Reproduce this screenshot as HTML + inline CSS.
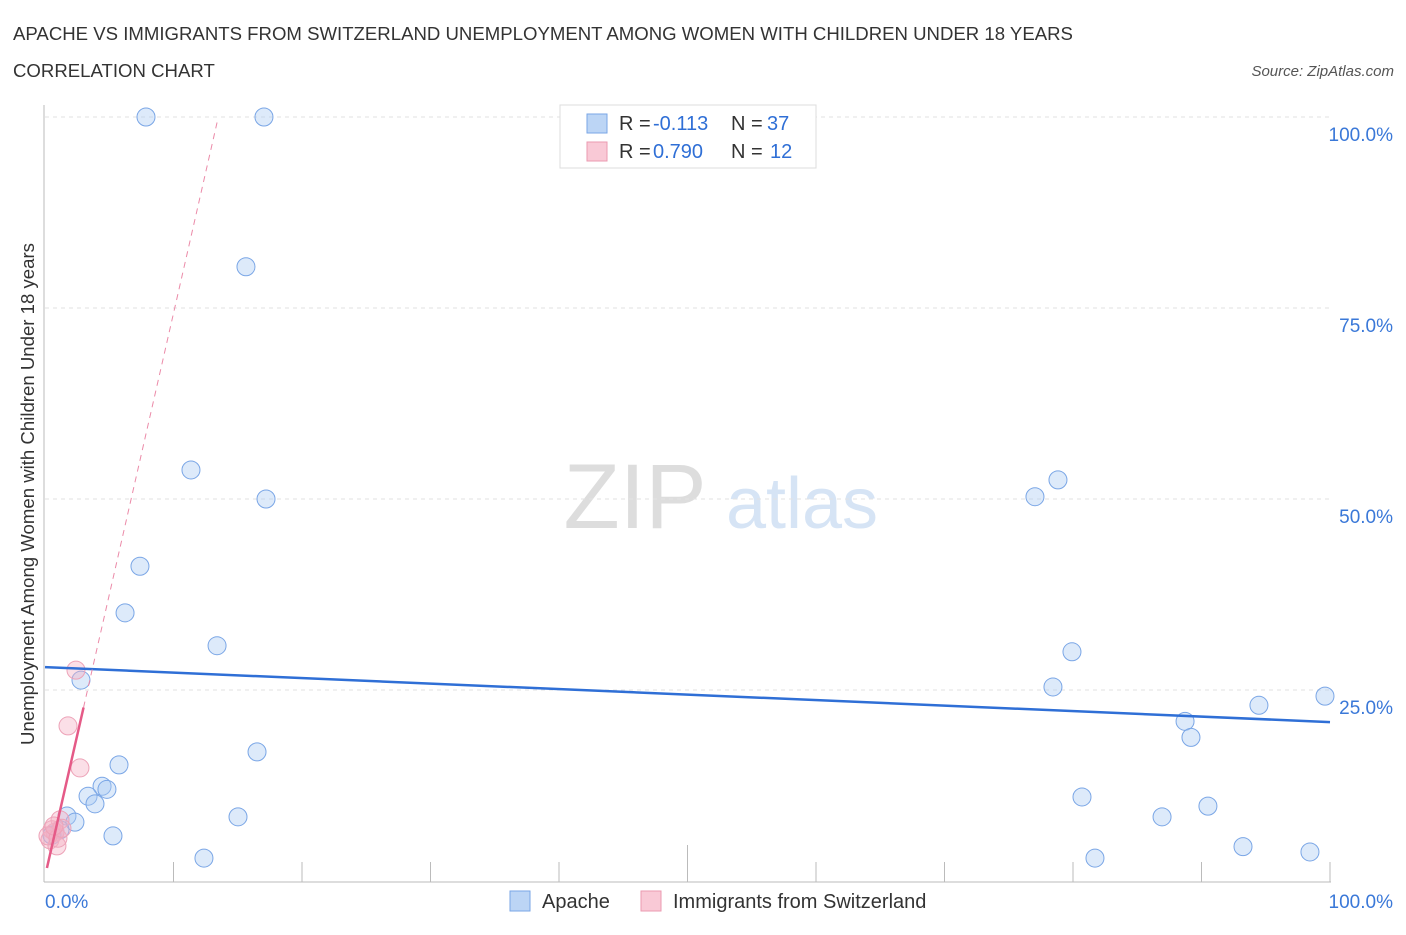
<!DOCTYPE html>
<html><head><meta charset="utf-8"><style>
body{margin:0;background:#fff;font-family:"Liberation Sans",sans-serif;}
svg text{font-family:"Liberation Sans",sans-serif;}
</style></head><body>
<svg id="c" width="1406" height="930">
<text x="13" y="40" font-size="18.6" fill="#333">APACHE VS IMMIGRANTS FROM SWITZERLAND UNEMPLOYMENT AMONG WOMEN WITH CHILDREN UNDER 18 YEARS</text>
<text x="13" y="77" font-size="18.6" fill="#333">CORRELATION CHART</text>
<text x="1394" y="76" font-size="15" fill="#555" font-style="italic" text-anchor="end">Source: ZipAtlas.com</text>
<text x="635" y="528" font-size="92" fill="#ddd" text-anchor="middle" font-family="Liberation Serif">ZIP</text>
<text x="802" y="528" font-size="72" fill="#d6e4f5" text-anchor="middle">atlas</text>
<text transform="translate(34,494) rotate(-90)" font-size="18.6" fill="#333" text-anchor="middle">Unemployment Among Women with Children Under 18 years</text>
<g id="grid"></g><g id="marks"></g>
<g>
<rect x="560" y="105" width="256" height="63" fill="#fff" stroke="#ddd"/>
<rect x="587" y="114" width="20" height="19" fill="#bcd5f5" stroke="#7aa6e6"/>
<rect x="587" y="142" width="20" height="19" fill="#f9c9d6" stroke="#eb9ab0"/>
<text x="619" y="130" font-size="20" fill="#333">R =</text>
<text x="653" y="130" font-size="20" fill="#2f6fd6">-0.113</text>
<text x="731" y="130" font-size="20" fill="#333">N =</text>
<text x="767" y="130" font-size="20" fill="#2f6fd6">37</text>
<text x="619" y="158" font-size="20" fill="#333">R =</text>
<text x="653" y="158" font-size="20" fill="#2f6fd6">0.790</text>
<text x="731" y="158" font-size="20" fill="#333">N =</text>
<text x="770" y="158" font-size="20" fill="#2f6fd6">12</text>
</g>
<g>
<rect x="510" y="891" width="20" height="20" fill="#bcd5f5" stroke="#7aa6e6"/>
<text x="542" y="908" font-size="20" fill="#333">Apache</text>
<rect x="641" y="891" width="20" height="20" fill="#f9c9d6" stroke="#eb9ab0"/>
<text x="673" y="908" font-size="20" fill="#333">Immigrants from Switzerland</text>
</g>
</svg>
<script>
const yTicks=[25,50,75,100];
const yTickLabels=["25.0%","50.0%","75.0%","100.0%"];
const apacheX=[7.86,17.04,15.64,11.36,17.2,7.39,6.23,13.39,2.8,16.5,5.76,4.44,4.82,3.35,3.89,1.71,2.33,5.29,15.02,12.37,1.17,0.78,0.54,77.04,78.83,79.92,78.44,94.47,99.61,88.72,89.18,80.7,86.93,90.5,81.71,93.23,98.44];
const apacheY=[100,100,80.4,53.8,50.0,41.2,35.1,30.8,26.3,16.9,15.2,12.4,12.0,11.1,10.1,8.5,7.7,5.9,8.4,3.0,6.7,6.4,6.0,50.3,52.5,30.0,25.4,23.0,24.2,20.9,18.8,11.0,8.4,9.8,3.0,4.5,3.8];
const swissX=[2.41,1.79,2.72,1.17,0.78,0.39,0.93,0.54,0.23,1.01,1.32,0.7];
const swissY=[27.6,20.3,14.8,8.0,6.4,5.4,4.6,6.7,5.9,5.6,6.9,7.2];
const apacheTrend=[28.0,20.8];
const swissTrend=[0.6,7.37];
const NS='http://www.w3.org/2000/svg';
const X=v=>45+v*12.85, Y=v=>881-v*7.64;
function mk(p,t,a){const e=document.createElementNS(NS,t);for(const k in a)e.setAttribute(k,a[k]);p.appendChild(e);return e;}
const g=document.getElementById('grid'), m=document.getElementById('marks');
yTicks.forEach((t,i)=>{
 const l=mk(g,'line',{x1:45,x2:1330,y1:Y(t),y2:Y(t),stroke:'#e2e2e2','stroke-dasharray':'4,4'});
 
 
 const tx=mk(g,'text',{x:1393,y:Y(t)+24,'font-size':19,fill:'#3a78d8','text-anchor':'end'});
 tx.textContent=yTickLabels[i];
 
 
});
const ax=mk(g,'line',{x1:44,x2:44,y1:105,y2:882,stroke:'#bbb'});


const bx=mk(g,'line',{x1:44,x2:1331,y1:882,y2:882,stroke:'#bbb'});


for(let i=1;i<=10;i++){const t=mk(g,'line',{x1:X(i*10),x2:X(i*10),y1:i==5?845:862,y2:882,stroke:'#bbb'});
 
 }
const x0=mk(g,'text',{x:45,y:908,'font-size':19,fill:'#3a78d8'});x0.textContent='0.0%';


const x1=mk(g,'text',{x:1393,y:908,'font-size':19,fill:'#3a78d8','text-anchor':'end'});x1.textContent='100.0%';


apacheX.forEach((x,i)=>{const c=mk(m,'circle',{cx:X(x),cy:Y(apacheY[i]),r:9,fill:'rgba(170,202,242,0.4)',stroke:'#7aa6e6','stroke-width':1});
 
 });
swissX.forEach((x,i)=>{const c=mk(m,'circle',{cx:X(x),cy:Y(swissY[i]),r:9,fill:'rgba(245,175,195,0.4)',stroke:'#eda3b8','stroke-width':1});
 
 });
const bl=mk(m,'line',{x1:X(0),y1:Y(apacheTrend[0]),x2:X(100),y2:Y(apacheTrend[1]),stroke:'#2f6fd6','stroke-width':2.5});


const sf=v=>swissTrend[0]+swissTrend[1]*v;
const pd=mk(m,'line',{x1:X(3),y1:Y(sf(3)),x2:X(13.4),y2:Y(sf(13.4)),stroke:'#eb8aa8','stroke-width':1,'stroke-dasharray':'6,5'});


const ps=mk(m,'line',{x1:X(0.15),y1:Y(sf(0.15)),x2:X(3),y2:Y(sf(3)),stroke:'#e55a87','stroke-width':2.5});


</script>
</body></html>
